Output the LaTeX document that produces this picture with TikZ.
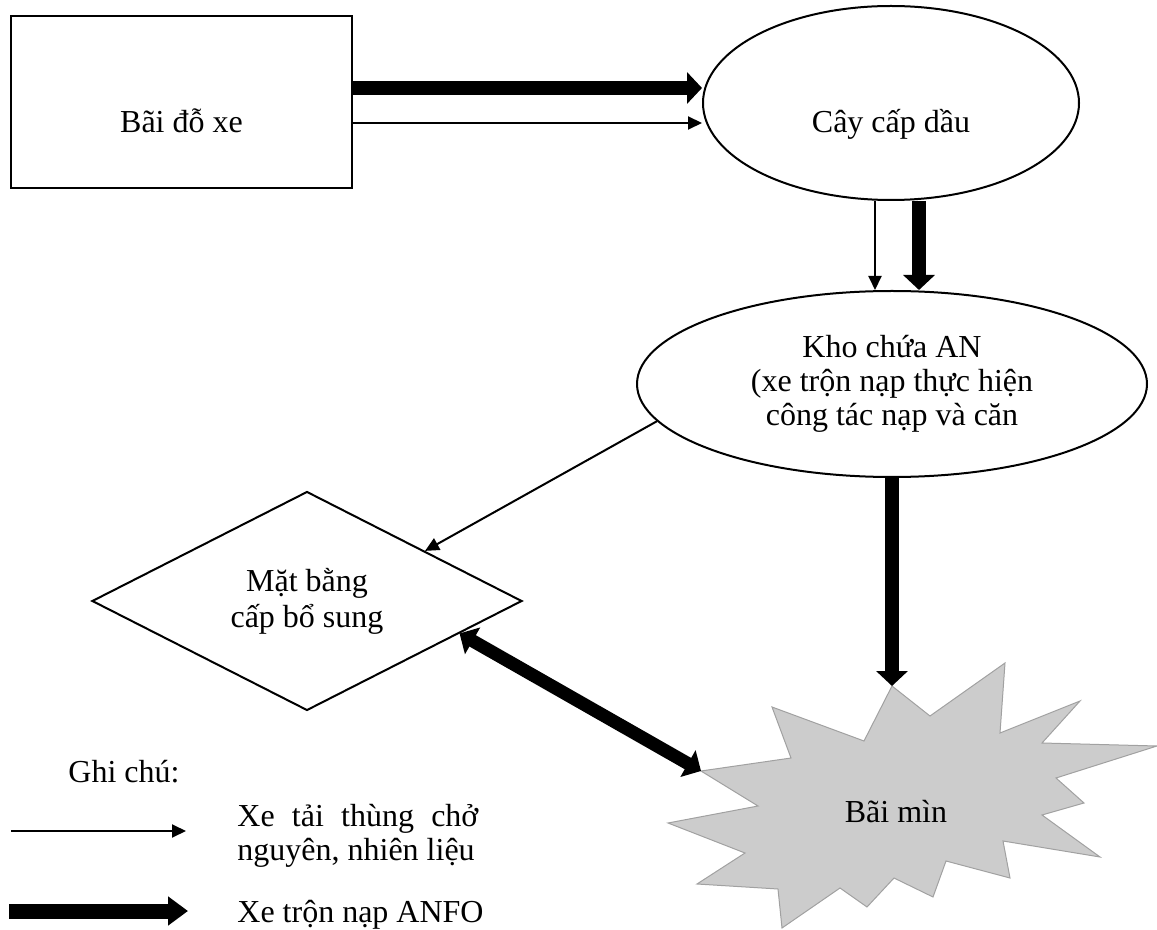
\documentclass[tikz,border=0pt]{standalone}
\usepackage{fontspec}
\setmainfont{Liberation Serif}
\usepackage{tikz}
\usetikzlibrary{arrows.meta, shapes.geometric}

\tikzset{
  box/.style={draw, line width=1pt, inner sep=0pt},
  thinarr/.style={line width=1pt, -{Triangle[length=7pt,width=6.5pt]}},
  thickarr/.style={line width=7pt, -{Triangle[length=7.5pt,width=15.5pt]}},
  botharr/.style={line width=6.5pt, {Triangle[length=7.5pt,width=15pt]}-{Triangle[length=7.5pt,width=15pt]}},
  minefill/.style={fill=black!20, draw=black!37, line width=0.5pt},
}

\begin{document}
\begin{tikzpicture}[x=0.5pt, y=-0.5pt, inner sep=0pt, font=\fontsize{16}{17}\selectfont]
\useasboundingbox (0,0) rectangle (1157,930);
% nodes
\node[box, minimum width=170.5pt, minimum height=86pt, text height=31pt, text depth=0pt] (park) at (181.5,102) {Bãi đỗ xe};
\node[box, ellipse, minimum width=188pt, minimum height=97pt, text height=30pt, text depth=0pt] (pump) at (891,103) {Cây cấp dầu};
\node[box, ellipse, minimum width=255pt, minimum height=93pt, align=center] (store) at (892,384) {Kho chứa AN\\(xe trộn nạp thực hiện\\công tác nạp và căn};
\node[box, diamond, minimum width=215pt, minimum height=95.5pt, align=center] (mb) at (307,601) {Mặt bằng\\[1pt]cấp bổ sung};
% the mine field
\coordinate (mtop) at (892,686);
\coordinate (mleft) at (701,771);
\path[minefill] (mtop) -- (930,716) -- (1005,663) -- (1000,733) -- (1080,701) -- (1042,743)
  -- (1157,746) -- (1056,778) -- (1084,803) -- (1042,815) -- (1100,857) -- (1003,841)
  -- (1010,878) -- (946,861) -- (933,897) -- (894,878) -- (867,907) -- (840,888)
  -- (782,928) -- (778,889) -- (697,884) -- (745,853) -- (668,823) -- (758,806)
  -- (mleft) -- (791,758) -- (772,707) -- (864,741) -- cycle;
\node (mine) at (896,812) {Bãi mìn};
% connectors
\draw[thickarr] ([yshift=7pt]park.east) -- ([yshift=7pt]park.east -| pump.west);
\draw[thinarr] ([yshift=-10.5pt]park.east) -- ([yshift=-10.5pt]park.east -| pump.west);
\draw[thinarr] ([xshift=-8pt]pump.south) -- ([xshift=-8pt]pump.south |- store.north);
\draw[thickarr] ([xshift=14pt]pump.south) -- ([xshift=14pt]pump.south |- store.north);
\draw[thickarr] (store.south) -- (mtop);
\draw[thinarr] (store.189) -- (mb.23);
\draw[botharr] (mb.-12) -- (mleft);
% legend
\node[anchor=base west] (note) at (68,782) {Ghi chú:};
\coordinate (l1a) at (11,831);
\coordinate (l1b) at (186,831);
\draw[thinarr] (l1a) -- (l1b);
\node[anchor=west, text width=120.5pt, align=justify] (l1txt) at (237,836) {Xe tải thùng chở nguyên, nhiên liệu};
\coordinate (l2a) at (9,911);
\coordinate (l2b) at (188,911);
\draw[thickarr, line width=7.5pt, -{Triangle[length=10pt,width=14pt]}] (l2a) -- (l2b);
\node[anchor=base west] (l2txt) at (237,922) {Xe trộn nạp ANFO};
\end{tikzpicture}
\end{document}
